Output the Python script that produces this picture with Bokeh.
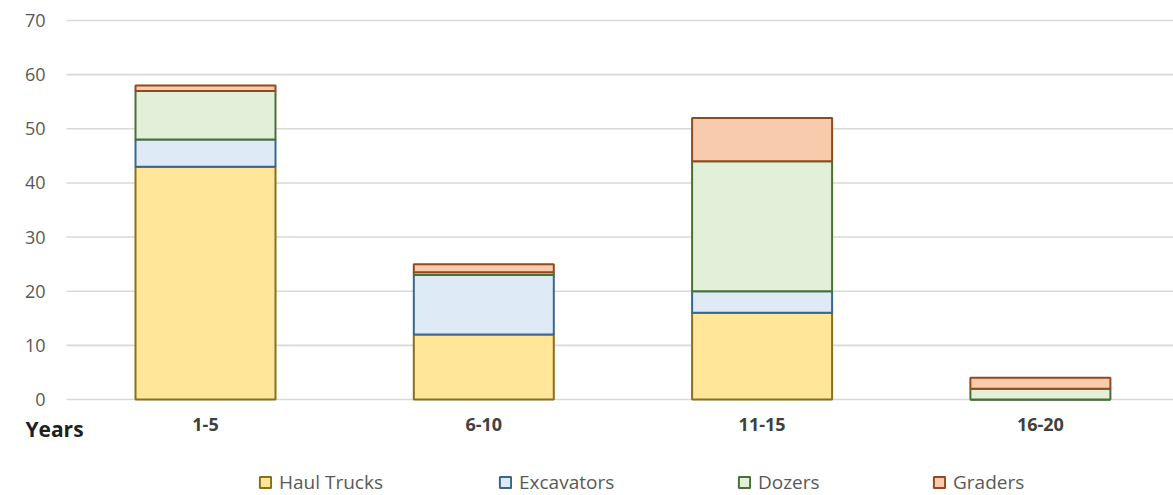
from bokeh.plotting import figure
from bokeh.models import (Range1d, FixedTicker, Legend, LegendItem, Label)
from bokeh.embed import file_html
from bokeh.resources import INLINE

# Equipment count by age band (years)
categories = ["1-5", "6-10", "11-15", "16-20"]
haul_trucks = [43, 12, 16, 0]
excavators = [5, 11, 4, 0]
dozers = [9, 0.5, 24, 2]
graders = [1, 1.5, 8, 2]

series_names = ["Haul Trucks", "Excavators", "Dozers", "Graders"]
fills = ["#FFE699", "#DEEBF7", "#E2F0D9", "#F8CBAD"]
edges = ["#8A6F1C", "#3A6690", "#4A7032", "#914A20"]
y_ticks = [0, 10, 20, 30, 40, 50, 60, 70]

FONT = "Open Sans"
TEXT_GREY = "#595959"
W, H = 1173, 495

# Canvas layout in pixels: plot area starts at x=66, value 0 sits at y=399, 70 at y=20
slot = 278.3                       # pixels per age band
first_center = 205                 # pixel centre of the first band
px_per_unit = (399 - 20) / 70.0

def xdata(px):
    return (px - first_center) / slot

def ydata(py):
    return (399 - py) / px_per_unit

positions = list(range(len(categories)))
data = {"pos": positions, "Haul Trucks": haul_trucks, "Excavators": excavators,
        "Dozers": dozers, "Graders": graders}

p = figure(width=W, height=H, output_backend="svg", toolbar_location=None,
           x_range=Range1d(xdata(0), xdata(W)),
           y_range=Range1d(ydata(H), ydata(0)),
           min_border=0, min_border_left=0, min_border_right=0,
           min_border_top=0, min_border_bottom=0)

p.outline_line_color = None
p.background_fill_color = "white"
p.xgrid.visible = False
p.ygrid.visible = False

# Horizontal gridlines across the plot area only
p.segment(x0=xdata(66), x1=xdata(W), y0=y_ticks, y1=y_ticks,
          line_color="#D9D9D9", line_width=1.6)

renderers = p.vbar_stack(series_names, x="pos", width=140 / slot, source=data,
                         fill_color=fills, line_color=edges, line_width=2)

# Value axis drawn at the left edge of the plot area
p.yaxis.fixed_location = xdata(66)
p.yaxis.ticker = FixedTicker(ticks=y_ticks)
p.yaxis.axis_line_color = None
p.yaxis.major_tick_line_color = None
p.yaxis.minor_tick_line_color = None
p.yaxis.major_tick_out = 0
p.yaxis.major_label_standoff = 21
p.yaxis.major_label_text_font = FONT
p.yaxis.major_label_text_font_size = "18px"
p.yaxis.major_label_text_color = TEXT_GREY

# Age band axis drawn along the zero line
p.xaxis.fixed_location = 0
p.xaxis.ticker = FixedTicker(ticks=positions)
p.xaxis.major_label_overrides = {i: c for i, c in zip(positions, categories)}
p.xaxis.axis_line_color = None
p.xaxis.major_tick_line_color = None
p.xaxis.minor_tick_line_color = None
p.xaxis.major_tick_out = 0
p.xaxis.major_label_standoff = 18
p.xaxis.major_label_text_font = FONT
p.xaxis.major_label_text_font_size = "18px"
p.xaxis.major_label_text_font_style = "bold"
p.xaxis.major_label_text_color = "#404040"

years_label = Label(x=xdata(54), y=ydata(428), text="Years",
                    text_font=FONT, text_font_size="21px", text_font_style="bold",
                    text_color="#1F1F1F", text_align="center", text_baseline="middle")
p.add_layout(years_label)

# One legend per series so each entry sits at its own spot along the bottom
legend_left = [258, 498, 737, 932]
for r, name, lx in zip(renderers, series_names, legend_left):
    leg = Legend(items=[LegendItem(label=name, renderers=[r])],
                 location=(lx, 0), orientation="horizontal",
                 glyph_width=14, glyph_height=14, label_standoff=7,
                 padding=0, margin=0, spacing=0,
                 border_line_color=None, background_fill_alpha=0,
                 label_text_font=FONT, label_text_font_size="19px",
                 label_text_color=TEXT_GREY)
    p.add_layout(leg)

open("out.html", "w").write(file_html(p, INLINE))
